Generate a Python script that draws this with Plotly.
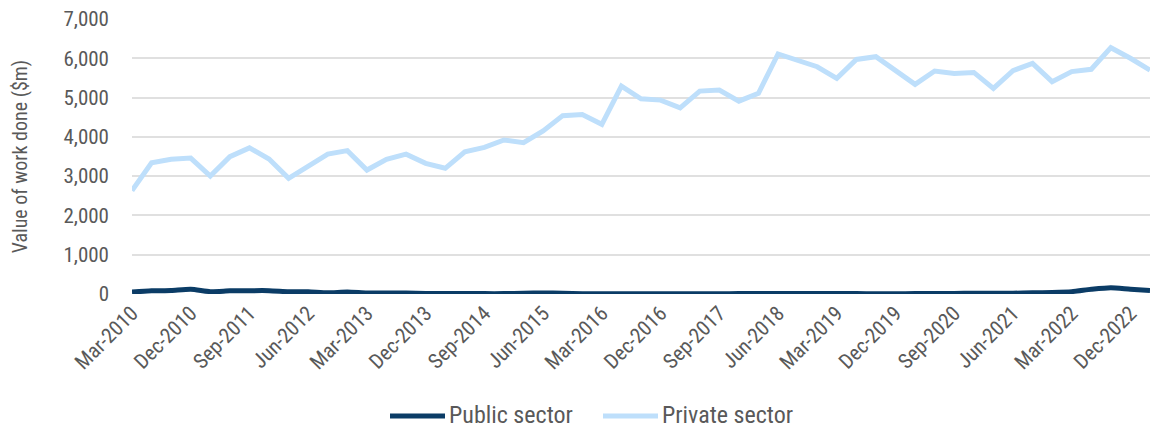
import plotly.graph_objects as go

# Quarterly periods, Mar-2010 to Mar-2023
months = ["Mar", "Jun", "Sep", "Dec"]
quarters = [f"{m}-{y}" for y in range(2010, 2024) for m in months][:53]

public_sector = [
    50, 80, 90, 120, 60, 80, 85, 85, 60, 55, 30, 50, 25,
    25, 25, 15, 10, 10, 10, 10, 20, 25, 20, 5, 5, 5,
    5, 5, 5, 5, 5, 10, 15, 15, 15, 15, 15, 10, 5, 5,
    10, 15, 15, 20, 20, 20, 30, 40, 60, 120, 160, 120, 90,
]
private_sector = [
    2630, 3340, 3430, 3460, 3000, 3495, 3720, 3435, 2945, 3260, 3560, 3650, 3155,
    3430, 3560, 3325, 3200, 3620, 3730, 3920, 3850, 4150, 4540, 4570, 4320, 5290,
    4970, 4935, 4740, 5165, 5190, 4910, 5110, 6110, 5955, 5785, 5490, 5970, 6040,
    5700, 5335, 5675, 5615, 5640, 5235, 5685, 5870, 5405, 5660, 5720, 6270, 6000,
    5700,
]

FONT = "Roboto Condensed, Liberation Sans Narrow, Roboto, sans-serif"
GREY = "#595959"
PUBLIC_COLOR = "#0B3C66"
PRIVATE_COLOR = "#BEDFFB"

W, H = 1150, 430
L, R, T, B = 132, 0, 19, 136

fig = go.Figure()
fig.add_trace(go.Scatter(
    x=quarters, y=public_sector, mode="lines", name="Public sector",
    line=dict(color=PUBLIC_COLOR, width=5, shape="spline", smoothing=0.6),
))
fig.add_trace(go.Scatter(
    x=quarters, y=private_sector, mode="lines", name="Private sector",
    line=dict(color=PRIVATE_COLOR, width=5),
))


# legend drawn by hand so the key lines are as long as in the original
def px_x(p):
    return (p - L) / (W - L - R)


def px_y(p):
    return (H - B - p) / (H - T - B)


legend_items = [("Public sector", PUBLIC_COLOR, 390), ("Private sector", PRIVATE_COLOR, 603)]
for label, color, x0 in legend_items:
    fig.add_shape(type="line", xref="paper", yref="paper",
                  x0=px_x(x0), x1=px_x(x0 + 55), y0=px_y(416), y1=px_y(416),
                  line=dict(color=color, width=5))
    fig.add_annotation(text=label, xref="paper", yref="paper",
                       x=px_x(x0 + 57), y=px_y(415), xanchor="left", yanchor="middle",
                       showarrow=False, font=dict(size=24, color=GREY))

fig.update_layout(
    width=W, height=H,
    margin=dict(l=L, r=R, t=T, b=B),
    plot_bgcolor="white", paper_bgcolor="white",
    font=dict(family=FONT, color=GREY, size=20),
    showlegend=False,
    xaxis=dict(
        type="category", range=[0, 52], automargin=False,
        tickmode="array", tickvals=quarters[::3], ticktext=quarters[::3],
        tickangle=-45, showgrid=False, showline=False, ticks="",
        tickfont=dict(size=21, color=GREY), ticklabelstandoff=2,
    ),
    yaxis=dict(
        range=[0, 7000], dtick=1000, tickformat=",", automargin=False,
        gridcolor="#E0E0E0", gridwidth=2, zeroline=False, showline=False,
        tickfont=dict(size=21, color=GREY), ticklabelstandoff=22,
        title=dict(text="Value of work done ($m)", font=dict(size=20, color=GREY), standoff=30),
    ),
)

fig.write_html(
    "out.html",
    config={"displayModeBar": False},
    post_script="document.body.style.margin='0';document.body.style.overflow='hidden';",
)
